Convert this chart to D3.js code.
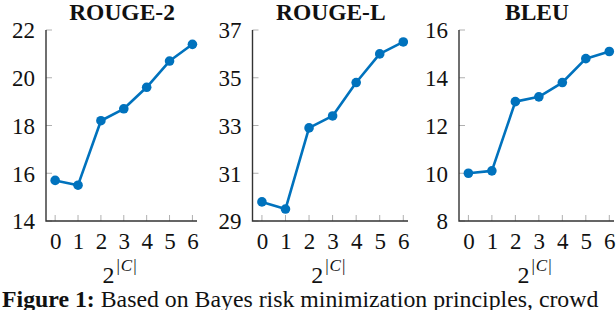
<!DOCTYPE html>
<html><head><meta charset="utf-8">
<script src="https://cdn.jsdelivr.net/npm/d3@7"></script>
<style>
html,body{margin:0;padding:0;background:#fff;overflow:hidden}
svg{display:block}
</style></head><body>
<svg id="c" width="616" height="310"></svg>
<script>
// ---- data ----
const xValues = [0, 1, 2, 3, 4, 5, 6];
const titles = ["ROUGE-2", "ROUGE-L", "BLEU"];
const rouge2 = [15.7, 15.5, 18.2, 18.7, 19.6, 20.7, 21.4];
const rougeL = [29.8, 29.5, 32.9, 33.4, 34.8, 36.0, 36.5];
const bleu   = [10.0, 10.1, 13.0, 13.2, 13.8, 14.8, 15.1];
const yTicks2 = [14, 16, 18, 20, 22];
const yTicksL = [29, 31, 33, 35, 37];
const yTicksB = [8, 10, 12, 14, 16];
const captionBold = "Figure 1:";
const captionText = " Based on Bayes risk minimization principles, crowd";

// ---- layout ----
const FONT = "Liberation Serif";
const panels = [
  {title: titles[0], values: rouge2, ticks: yTicks2, left: 46,    width: 151},
  {title: titles[1], values: rougeL, ticks: yTicksL, left: 252.5, width: 155.5},
  {title: titles[2], values: bleu,   ticks: yTicksB, left: 459,   width: 155}
];
const plotTop = 30, plotBottom = 221;
const color = "#0072bd";
const svg = d3.select("#c").attr("font-family", FONT);

panels.forEach(p => {
  const x = d3.scaleLinear().domain([-0.4, 6.2]).range([p.left, p.left + p.width]);
  const y = d3.scaleLinear().domain(d3.extent(p.ticks)).range([plotBottom, plotTop]);
  const g = svg.append("g");

  // title
  g.append("text").attr("x", p.left + p.width / 2 + 0.5).attr("y", 19.5)
    .attr("text-anchor", "middle").attr("font-family", FONT)
    .attr("font-weight", "bold").attr("font-size", 23.5).attr("fill", "#111")
    .text(p.title);

  // y axis
  const ya = d3.axisLeft(y).tickValues(p.ticks).tickSize(0).tickPadding(11).tickFormat(d3.format("d"));
  const yg = g.append("g").attr("transform", `translate(${p.left},0)`).call(ya)
    .attr("font-family", FONT).attr("font-size", 23);
  yg.select(".domain").remove();
  yg.selectAll("text").attr("font-family", FONT).attr("fill", "#111").attr("dy", "0.34em");
  g.append("g").selectAll("line").data(p.ticks).join("line")
    .attr("x1", p.left).attr("x2", p.left + 6)
    .attr("y1", d => y(d)).attr("y2", d => y(d))
    .attr("stroke", "#b0b0b0").attr("stroke-width", 1);

  // x axis
  const xa = d3.axisBottom(x).tickValues(xValues).tickSize(0).tickPadding(12).tickFormat(d3.format("d"));
  const xg = g.append("g").attr("transform", `translate(0,${plotBottom})`).call(xa)
    .attr("font-family", FONT).attr("font-size", 23);
  xg.select(".domain").remove();
  xg.selectAll("text").attr("font-family", FONT).attr("fill", "#111").attr("dy", "0.71em");
  g.append("g").selectAll("line").data(xValues).join("line")
    .attr("x1", d => x(d)).attr("x2", d => x(d))
    .attr("y1", plotBottom).attr("y2", plotBottom - 6)
    .attr("stroke", "#b0b0b0").attr("stroke-width", 1);

  // axis lines (left & bottom)
  g.append("path")
    .attr("d", `M${p.left},${plotTop}V${plotBottom}H${p.left + p.width}`)
    .attr("fill", "none").attr("stroke", "#333").attr("stroke-width", 1.4);

  // x label 2^{|C|}
  const lab = g.append("text").attr("x", p.left + p.width / 2 - 2).attr("y", 283)
    .attr("text-anchor", "middle").attr("font-family", FONT)
    .attr("font-size", 24).attr("fill", "#111");
  lab.append("tspan").text("2");
  lab.append("tspan").attr("dx", 2).attr("dy", -12).attr("font-size", 17).text("|");
  lab.append("tspan").attr("dx", 1).attr("font-size", 17).attr("font-style", "italic").text("C");
  lab.append("tspan").attr("dx", 1).attr("font-size", 17).text("|");

  // line + markers
  const pts = xValues.map((v, i) => [v, p.values[i]]);
  g.append("path").datum(pts)
    .attr("d", d3.line().x(d => x(d[0])).y(d => y(d[1])))
    .attr("fill", "none").attr("stroke", color).attr("stroke-width", 2.6)
    .attr("stroke-linejoin", "round");
  g.append("g").selectAll("circle").data(pts).join("circle")
    .attr("cx", d => x(d[0])).attr("cy", d => y(d[1])).attr("r", 4.8)
    .attr("fill", color);
});

// caption (clipped at bottom, as in the reference)
const cap = svg.append("text").attr("x", 2).attr("y", 307).attr("font-family", FONT)
  .attr("font-size", 23.8).attr("fill", "#111");
cap.append("tspan").attr("font-weight", "bold").text(captionBold);
cap.append("tspan").text(captionText);
</script></body></html>
